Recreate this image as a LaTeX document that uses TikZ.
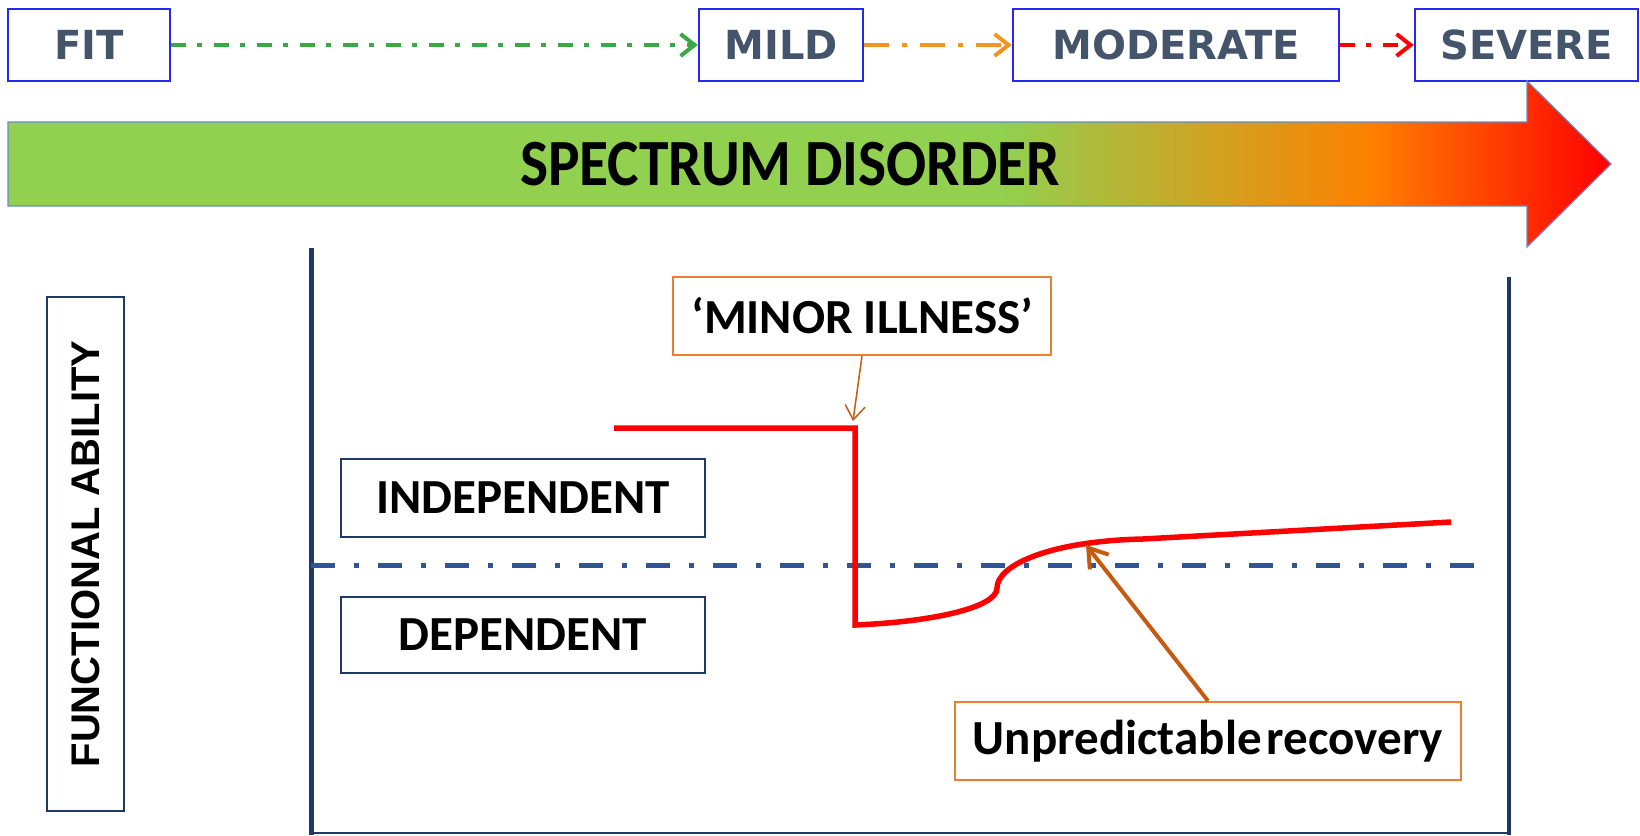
\documentclass[tikz,border=0pt]{standalone}
\usepackage{fontspec}
\usetikzlibrary{arrows.meta}
\newfontfamily\stagefont{DejaVu Sans}
\newfontfamily\labelfont{Carlito}
\newfontfamily\bannerfont{Carlito}[FakeStretch=0.9]
\newfontfamily\axisfont{Liberation Sans}

\definecolor{stageblue}{RGB}{40,40,240}
\definecolor{stagetext}{RGB}{68,84,106}
\definecolor{navy}{RGB}{32,56,100}
\definecolor{midblue}{RGB}{47,85,151}
\definecolor{calloutorange}{RGB}{237,125,49}
\definecolor{rust}{RGB}{197,90,17}
\definecolor{fitgreen}{RGB}{57,168,69}
\definecolor{mildorange}{RGB}{240,150,30}
\definecolor{specgreen}{RGB}{146,208,80}
\definecolor{specorange}{RGB}{255,128,0}
\definecolor{specred}{RGB}{255,0,0}
\definecolor{arrowedge}{RGB}{100,140,200}

% green -> orange -> red along the spectrum arrow (path box maps to 25bp..75bp)
\pgfdeclarehorizontalshading{spectrum}{100bp}{%
  color(0bp)=(specgreen); color(25bp)=(specgreen); color(56bp)=(specgreen);
  color(67.5bp)=(specorange); color(75bp)=(specred); color(100bp)=(specred)}

\tikzset{
  stagebox/.style={draw=stageblue, line width=2.5pt, fill=white, minimum height=72pt,
    inner sep=0pt, text=stagetext, font=\stagefont\bfseries\fontsize{40}{42}\selectfont},
  levelbox/.style={draw=navy, line width=2pt, minimum width=364pt, inner sep=0pt,
    font=\labelfont\bfseries\fontsize{49}{52}\selectfont},
  callout/.style={draw=calloutorange, line width=2pt, inner sep=0pt, minimum height=78pt,
    font=\labelfont\bfseries\fontsize{49}{52}\selectfont},
  progress/.style={line width=4pt, -{Straight Barb[length=14pt,width=22pt]}},
  illnesspath/.style={draw=specred, line width=5.5pt, line join=miter},
}

\begin{document}
\begin{tikzpicture}[x=1pt,y=-1pt]
\useasboundingbox (0,0) rectangle (1640,835);

% severity stages
\node[stagebox, minimum width=162pt] (fit) at (89,45) {FIT};
\node[stagebox, minimum width=164pt] (mild) at (781,45) {MILD};
\node[stagebox, minimum width=326pt] (moderate) at (1176,45) {MODERATE};
\node[stagebox, minimum width=223pt] (severe) at (1526.5,45) {SEVERE};

\draw[progress, fitgreen, dash pattern=on 15pt off 11pt on 5pt off 12pt] (fit) -- (mild);
\draw[progress, mildorange, dash pattern=on 25pt off 13pt on 5pt off 13pt] (mild) -- (moderate);
\draw[progress, specred, dash pattern=on 15pt off 11pt on 5pt off 12pt] (moderate) -- (severe);

% spectrum arrow
\shadedraw[shading=spectrum, draw=arrowedge, line width=1.2pt]
  (8,122) -- (1527,122) -- (1527,81) -- (1611,164) -- (1527,247) -- (1527,206) -- (8,206) -- cycle;
\node[font=\bannerfont\bfseries\fontsize{66}{68}\selectfont] (spectrum) at (790,164) {SPECTRUM DISORDER};

% chart frame
\draw[navy, line width=5pt] (311,248) -- (311,835);
\draw[navy, line width=2pt] (311,833) -- (1509,833);
\draw[navy, line width=4pt] (1509,277) -- (1509,835);

% independence threshold
\draw[midblue, line width=5pt, dash pattern=on 24pt off 19pt on 5pt off 19pt] (311,565) -- (1483,565);

% axis label
\node[draw=navy, line width=2pt, rotate=90, minimum width=514pt, minimum height=77pt, inner sep=0pt,
  font=\axisfont\bfseries\fontsize{40}{40}\selectfont] (axis) at (85.5,554) {FUNCTIONAL ABILITY};

\node[levelbox, minimum height=78pt] (indep) at (523,498) {INDEPENDENT};
\node[levelbox, minimum height=76pt] (dep) at (523,635) {DEPENDENT};

% functional course
\draw[illnesspath] (614,428) -- (855,428) -- (855,625)
  .. controls (930,622) and (997,608) .. (997,588)
  .. controls (997,565) and (1050,541) .. (1143,539) -- (1451,522);

% callouts
\node[callout, minimum width=378pt] (minor) at (862,316) {‘MINOR ILLNESS’};
\node[callout, minimum width=506pt] (recov) at (1208,741) {Unpredictable\hspace{-0.12em} recovery};

\coordinate (drop) at (853,421);
\coordinate (rise) at (1086,545);
\draw[rust, line width=1.5pt, -{Straight Barb[length=14pt,width=20pt]}] (minor.south) -- (drop);
\draw[rust, line width=4pt, -{Straight Barb[length=18pt,width=24pt]}] (recov.north) -- (rise);
\end{tikzpicture}
\end{document}
